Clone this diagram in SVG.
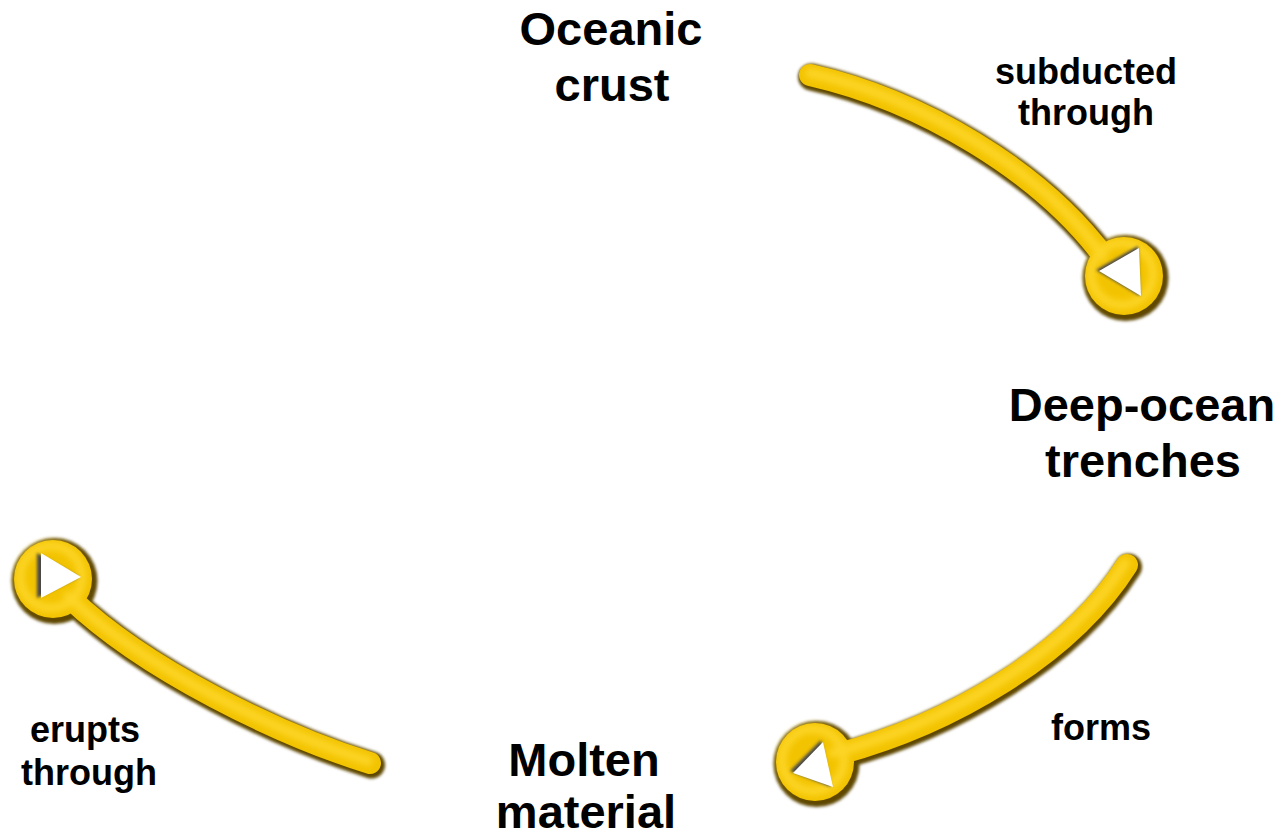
<svg xmlns="http://www.w3.org/2000/svg" width="1286" height="838" viewBox="0 0 1286 838">
  <defs>
    <style>
      .node { font-family: "Liberation Sans", Arial, sans-serif; font-weight: bold; font-size: 47px; fill: #000; text-anchor: middle; }
      .lbl { font-family: "Liberation Sans", Arial, sans-serif; font-weight: bold; font-size: 36px; fill: #000; text-anchor: middle; }
      .edge { fill: none; stroke: #5e4700; stroke-width: 27; stroke-linecap: round; }
      .edgeC { fill: #5e4700; }
      .body { fill: none; stroke: #F2C300; stroke-width: 22; stroke-linecap: round; }
      .bodyC { fill: #F2C300; }
      .hi { fill: none; stroke: #FFD92E; stroke-width: 10; stroke-linecap: round; }
      .hiC { fill: none; stroke: #FFD92E; stroke-width: 9; }
      .tri { fill: #ffffff; }
      .triS { fill: #4a4a4a; }
    </style>
    <filter id="soft" x="-20%" y="-20%" width="140%" height="140%">
      <feGaussianBlur stdDeviation="1.6"/>
    </filter>
    <filter id="softer" x="-20%" y="-20%" width="140%" height="140%">
      <feGaussianBlur stdDeviation="3"/>
    </filter>
  </defs>
  <rect width="1286" height="838" fill="#ffffff"/>

  <g id="connectors">
    <!-- subducted through: Oceanic crust -> Deep-ocean trenches -->
    <g id="edge-subducted">
      <g filter="url(#soft)" transform="translate(1.5,2)">
        <path class="edge" d="M810,75 C920,100 1040,170 1105,258"/>
        <circle class="edgeC" cx="1124" cy="276" r="43"/>
      </g>
      <path class="body" d="M810,75 C920,100 1040,170 1105,258"/>
      <circle class="bodyC" cx="1124" cy="276" r="39"/>
      <g filter="url(#softer)" opacity="0.8">
        <path class="hi" d="M810,73 C920,98 1040,168 1103,256"/>
        <circle class="hiC" cx="1122" cy="274" r="31"/>
      </g>
      <polygon class="triS" points="1096,270 1138,246 1140,296" filter="url(#soft)"/>
      <polygon class="tri" points="1099,271 1139,248 1141,296"/>
    </g>

    <!-- forms: Deep-ocean trenches -> Molten material -->
    <g id="edge-forms">
      <g filter="url(#soft)" transform="translate(1.5,2)">
        <path class="edge" d="M1127,565 C1070,655 950,725 835,755"/>
        <circle class="edgeC" cx="815" cy="762" r="43"/>
      </g>
      <path class="body" d="M1127,565 C1070,655 950,725 835,755"/>
      <circle class="bodyC" cx="815" cy="762" r="39"/>
      <g filter="url(#softer)" opacity="0.8">
        <path class="hi" d="M1125,563 C1068,653 948,723 833,753"/>
        <circle class="hiC" cx="813" cy="760" r="31"/>
      </g>
      <polygon class="triS" points="790,771 821,740 831,787" filter="url(#soft)"/>
      <polygon class="tri" points="793,773 823,742 833,787"/>
    </g>

    <!-- erupts through: Molten material -> Oceanic crust -->
    <g id="edge-erupts">
      <g filter="url(#soft)" transform="translate(1.5,2)">
        <path class="edge" d="M70,598 C145,670 280,735 370,763"/>
        <circle class="edgeC" cx="53" cy="579" r="43"/>
      </g>
      <path class="body" d="M70,598 C145,670 280,735 370,763"/>
      <circle class="bodyC" cx="53" cy="579" r="39"/>
      <g filter="url(#softer)" opacity="0.8">
        <path class="hi" d="M68,596 C143,668 278,733 368,761"/>
        <circle class="hiC" cx="51" cy="577" r="31"/>
      </g>
      <polygon class="triS" points="37,553 79,577 37,598" filter="url(#soft)"/>
      <polygon class="tri" points="41,553 81,577 41,598"/>
    </g>

    <g id="edge-labels">
      <text class="lbl" x="1086" y="84">subducted</text>
      <text class="lbl" x="1086" y="125">through</text>
      <text class="lbl" x="1101" y="740">forms</text>
      <text class="lbl" x="85" y="742">erupts</text>
      <text class="lbl" x="89" y="785">through</text>
    </g>
  </g>

  <g id="node-oceanic-crust">
    <text class="node" x="611" y="45">Oceanic</text>
    <text class="node" x="612" y="101">crust</text>
  </g>
  <g id="node-deep-ocean-trenches">
    <text class="node" x="1142" y="421">Deep-ocean</text>
    <text class="node" x="1143" y="477">trenches</text>
  </g>
  <g id="node-molten-material">
    <text class="node" x="584" y="776">Molten</text>
    <text class="node" x="586" y="828">material</text>
  </g>
</svg>
